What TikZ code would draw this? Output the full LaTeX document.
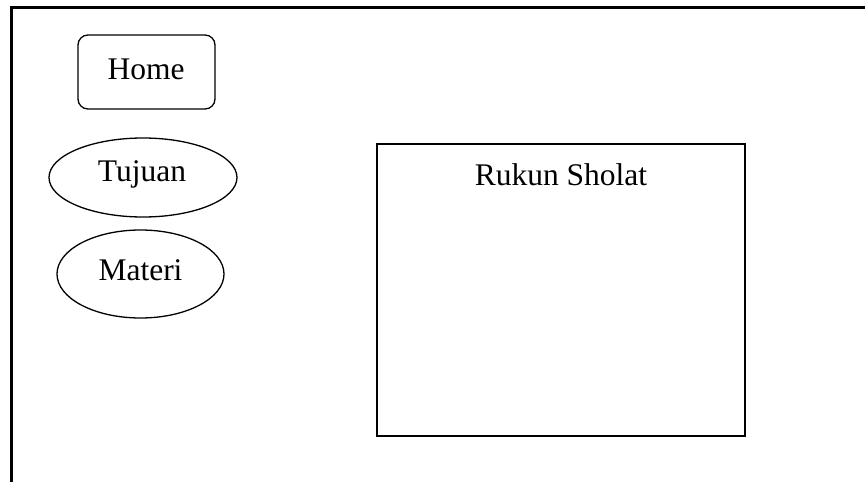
\documentclass[tikz,border=0pt]{standalone}
\usepackage{fontspec}
\setmainfont{Liberation Serif}
\usetikzlibrary{shapes.geometric}
\begin{document}
\begin{tikzpicture}[x=1pt,y=-1pt,
  frameline/.style={line width=2.2pt},
  shapeline/.style={draw,line width=1.3pt,inner sep=0pt},
  lbl/.style={anchor=base,inner sep=0pt,font=\fontsize{31.5}{36}\selectfont}]
\useasboundingbox (0,0) rectangle (865,482);
\draw[frameline] (11.5,482) -- (11.5,7.5) -- (865,7.5);
\node[shapeline,rectangle,rounded corners=10pt,minimum width=137pt,minimum height=74pt] (home) at (146.5,72) {};
\node[shapeline,ellipse,minimum width=188pt,minimum height=79pt] (tujuan) at (143,177.5) {};
\node[shapeline,ellipse,minimum width=167pt,minimum height=88pt] (materi) at (140.5,274) {};
\node[shapeline,rectangle,minimum width=368pt,minimum height=292pt] (rukun) at (561,290) {};
\node[lbl] (thome) at (146,79) {Home};
\node[lbl] (ttujuan) at (142,181) {Tujuan};
\node[lbl] (tmateri) at (140.5,280) {Materi};
\node[lbl] (trukun) at (561,185) {Rukun Sholat};
\end{tikzpicture}
\end{document}
